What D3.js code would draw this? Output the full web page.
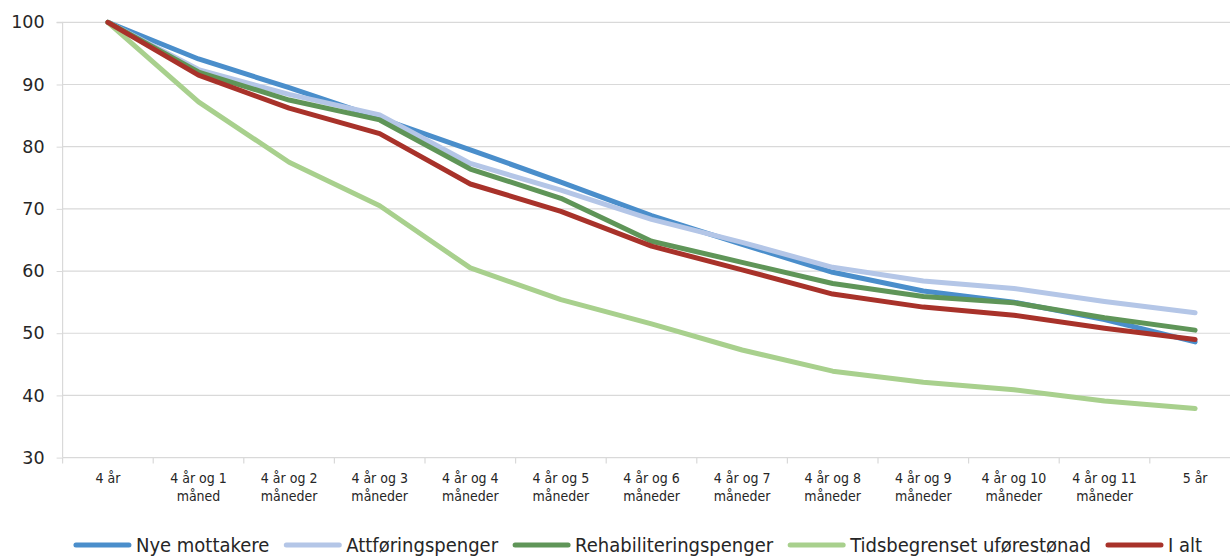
<!DOCTYPE html>
<html><head><meta charset="utf-8">
<script src="https://cdn.jsdelivr.net/npm/d3@7"></script>
<style>body{margin:0;background:#fff}svg{display:block}</style>
</head><body><svg id="c" width="1230" height="556"></svg>
<script>
const categories = [["4 år"],["4 år og 1","måned"],["4 år og 2","måneder"],["4 år og 3","måneder"],["4 år og 4","måneder"],["4 år og 5","måneder"],["4 år og 6","måneder"],["4 år og 7","måneder"],["4 år og 8","måneder"],["4 år og 9","måneder"],["4 år og 10","måneder"],["4 år og 11","måneder"],["5 år"]];
const seriesNames = ["Nye mottakere","Attføringspenger","Rehabiliteringspenger","Tidsbegrenset uførestønad","I alt"];
const seriesColors = ["#4a8ecb","#b4c6e7","#5f9558","#a8d08d","#a8322a"];
const nye = [100,94.1,89.5,84.6,79.5,74.3,68.9,64.3,59.8,56.8,55.0,52.2,48.6];
const attforing = [100,92.4,88.4,85.1,77.3,73.0,68.3,64.6,60.6,58.4,57.2,55.1,53.3];
const rehab = [100,92.0,87.5,84.3,76.4,71.7,64.8,61.4,58.0,55.9,54.9,52.5,50.5];
const tidsbeg = [100,87.2,77.5,70.5,60.5,55.4,51.5,47.3,43.9,42.1,40.9,39.1,37.9];
const ialt = [100,91.5,86.2,82.1,74.0,69.6,64.0,60.2,56.3,54.2,52.9,50.8,49.0];
const yTicks = [30,40,50,60,70,80,90,100];
const seriesValues = [nye, attforing, rehab, tidsbeg, ialt];

const svg = d3.select("#c");
const left = 62.6, bandW = 90.6;
const x = d3.scaleBand().domain(d3.range(categories.length)).range([left, left + bandW*categories.length]);
const y = d3.scaleLinear().domain([30,100]).range([457.6, 22.3]);
const font = "'Liberation Sans Narrow','DejaVu Sans Condensed',sans-serif";

// gridlines
svg.append("g").selectAll("line").data(yTicks.filter(d=>d>30)).join("line")
  .attr("x1", left).attr("x2", 1230).attr("y1", d=>y(d)).attr("y2", d=>y(d))
  .attr("stroke", "#d9d9d9").attr("stroke-width", 1.2);

// y axis
const yAx = svg.append("g").attr("transform", `translate(${left},0)`)
  .call(d3.axisLeft(y).tickValues(yTicks).tickSize(6).tickPadding(12));
yAx.select(".domain").attr("stroke", "#d9d9d9").attr("stroke-width", 1.2).attr("d", `M-6,${y(100)}H0V${y(30)}`);
yAx.selectAll(".tick line").attr("stroke", "#d9d9d9");
yAx.selectAll("text").attr("font-family", "'DejaVu Sans',sans-serif").attr("font-size", 17.5).attr("fill", "#262626");

// x axis
const xAx = svg.append("g").attr("transform", `translate(0,${y(30)})`);
xAx.append("line").attr("x1", left).attr("x2", 1230).attr("stroke", "#d9d9d9").attr("stroke-width", 1.2);
xAx.selectAll(".tk").data(d3.range(categories.length + 1)).join("line")
  .attr("x1", d=>left + d*bandW).attr("x2", d=>left + d*bandW).attr("y1", 0).attr("y2", 6)
  .attr("stroke", "#d9d9d9").attr("stroke-width", 1.2);
const lbl = xAx.selectAll(".lb").data(categories).join("text")
  .attr("x", (d,i)=>x(i) + x.bandwidth()/2).attr("y", 25)
  .attr("text-anchor", "middle").attr("font-family", font).attr("font-size", 14).attr("fill", "#262626");
lbl.each(function(d,i){
  d3.select(this).selectAll("tspan").data(d).join("tspan")
    .attr("x", x(i) + x.bandwidth()/2).attr("dy", (t,j)=> j===0 ? 0 : 18).text(t=>t);
});

// lines
const line = d3.line().x((d,i)=>x(i) + x.bandwidth()/2).y(d=>y(d));
svg.append("g").selectAll("path").data(seriesValues).join("path")
  .attr("d", d=>line(d)).attr("fill", "none")
  .attr("stroke", (d,i)=>seriesColors[i]).attr("stroke-width", 5)
  .attr("stroke-linejoin", "round").attr("stroke-linecap", "round");

// legend
const lg = svg.append("g");
const items = lg.selectAll("g").data(seriesNames).join("g");
items.append("line").attr("x1", 0).attr("x2", 53).attr("y1", 0).attr("y2", 0)
  .attr("stroke", (d,i)=>seriesColors[i]).attr("stroke-width", 5).attr("stroke-linecap", "round");
items.append("text").attr("x", 60).attr("y", 7).text(d=>d)
  .attr("font-family", font).attr("font-size", 20).attr("fill", "#262626");
let pos = 0; const offs = [];
items.each(function(){
  offs.push(pos);
  pos += 60 + this.querySelector("text").getComputedTextLength() + 17;
});
const total = pos - 17;
const start = 637 - total/2 + 2;
items.attr("transform", (d,i)=>`translate(${start + offs[i]},545)`);
</script></body></html>
